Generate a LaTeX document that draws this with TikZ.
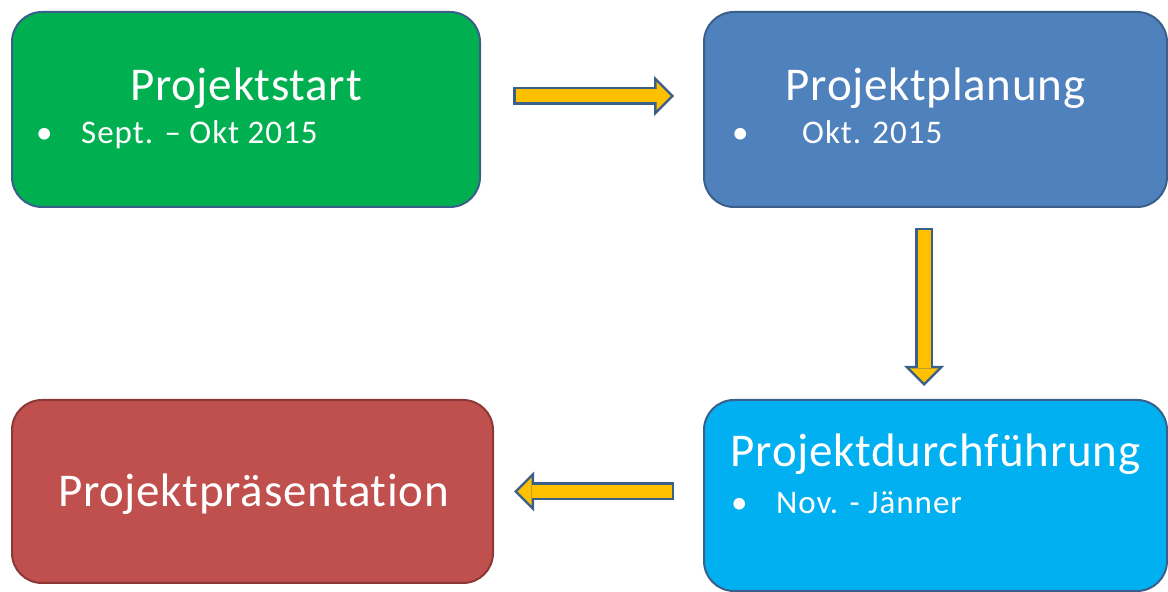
\documentclass[tikz,border=0pt]{standalone}
\usepackage{fontspec}
\setmainfont{Carlito}[Ligatures=NoCommon]
\usetikzlibrary{positioning,arrows.meta}

\definecolor{gruen}{HTML}{00B050}
\definecolor{blau}{HTML}{4F81BD}
\definecolor{hellblau}{HTML}{00B0F0}
\definecolor{rot}{HTML}{C0504D}
\definecolor{rand}{HTML}{3A5F8B}
\definecolor{rotrand}{HTML}{8C3836}
\definecolor{pfeil}{HTML}{FFC000}

\begin{document}
\begin{tikzpicture}[x=1pt, y=1pt,
		box/.style={draw=rand, line width=2pt, rounded corners=30pt, inner sep=0pt},
		title/.style={text=white, inner sep=0pt, anchor=base, font=\fontsize{47pt}{54pt}\selectfont\addfontfeatures{LetterSpace=1.5}},
		item/.style={text=white, inner sep=0pt, anchor=base west, font=\fontsize{33pt}{38pt}\selectfont\addfontfeatures{LetterSpace=3}},
		blockarrow/.style={draw=rand, line width=18pt, -{Triangle[width=40pt,length=20pt,line width=0pt]},
			postaction={draw=pfeil, line width=13pt, shorten <=2.5pt, shorten >=3.5pt,
				-{Triangle[width=28pt,length=14pt,line width=0pt]}}}]
		\useasboundingbox (0,0) rectangle (1168,592);

		% Kaesten
		\node[box, fill=gruen, minimum width=468pt, minimum height=195pt] (start) at (246,482.5) {};
		\node[box, fill=blau, minimum width=463pt, minimum height=195pt] (plan) at (935.5,482.5) {};
		\node[box, fill=hellblau, minimum width=463pt, minimum height=191pt] (durch) at (935.5,96.5) {};
		\node[box, fill=rot, draw=rotrand, minimum width=481pt, minimum height=183pt] (praes) at (252.5,100.5) {};

		% Texte
		\node[title] (start_t) at ([yshift=-90pt]start.north) {Projektstart};
		\node[item] (start_b) at ([xshift=25pt,yshift=-133pt]start.north west) {•};
		\node[item] (start_i) at ([xshift=70pt,yshift=-133pt]start.north west) {Sept. – Okt 2015};

		\node[title] (plan_t) at ([yshift=-90pt]plan.north) {Projektplanung};
		\node[item] (plan_b) at ([xshift=29pt,yshift=-133pt]plan.north west) {•};
		\node[item] (plan_i) at ([xshift=99pt,yshift=-133pt]plan.north west) {Okt. 2015};

		\node[title] (durch_t) at ([yshift=-68pt]durch.north) {Projektdurchführung};
		\node[item] (durch_b) at ([xshift=28pt,yshift=-115pt]durch.north west) {•};
		\node[item] (durch_i) at ([xshift=73pt,yshift=-115pt]durch.north west) {Nov. - Jänner};

		\node[title] (praes_t) at ([xshift=1pt,yshift=-15.5pt]praes.center) {Projektpräsentation};

		% Pfeile
		\draw[blockarrow] ([xshift=32pt,yshift=13.5pt]start.east) -- ([xshift=-29pt,yshift=13.5pt]plan.west);
		\draw[blockarrow] ([xshift=-11.5pt,yshift=-20pt]plan.south) -- ([xshift=-11.5pt,yshift=13pt]durch.north);
		\draw[blockarrow] ([xshift=-29pt,yshift=4pt]durch.west) -- ([xshift=20pt]praes.east);
	\end{tikzpicture}
\end{document}
